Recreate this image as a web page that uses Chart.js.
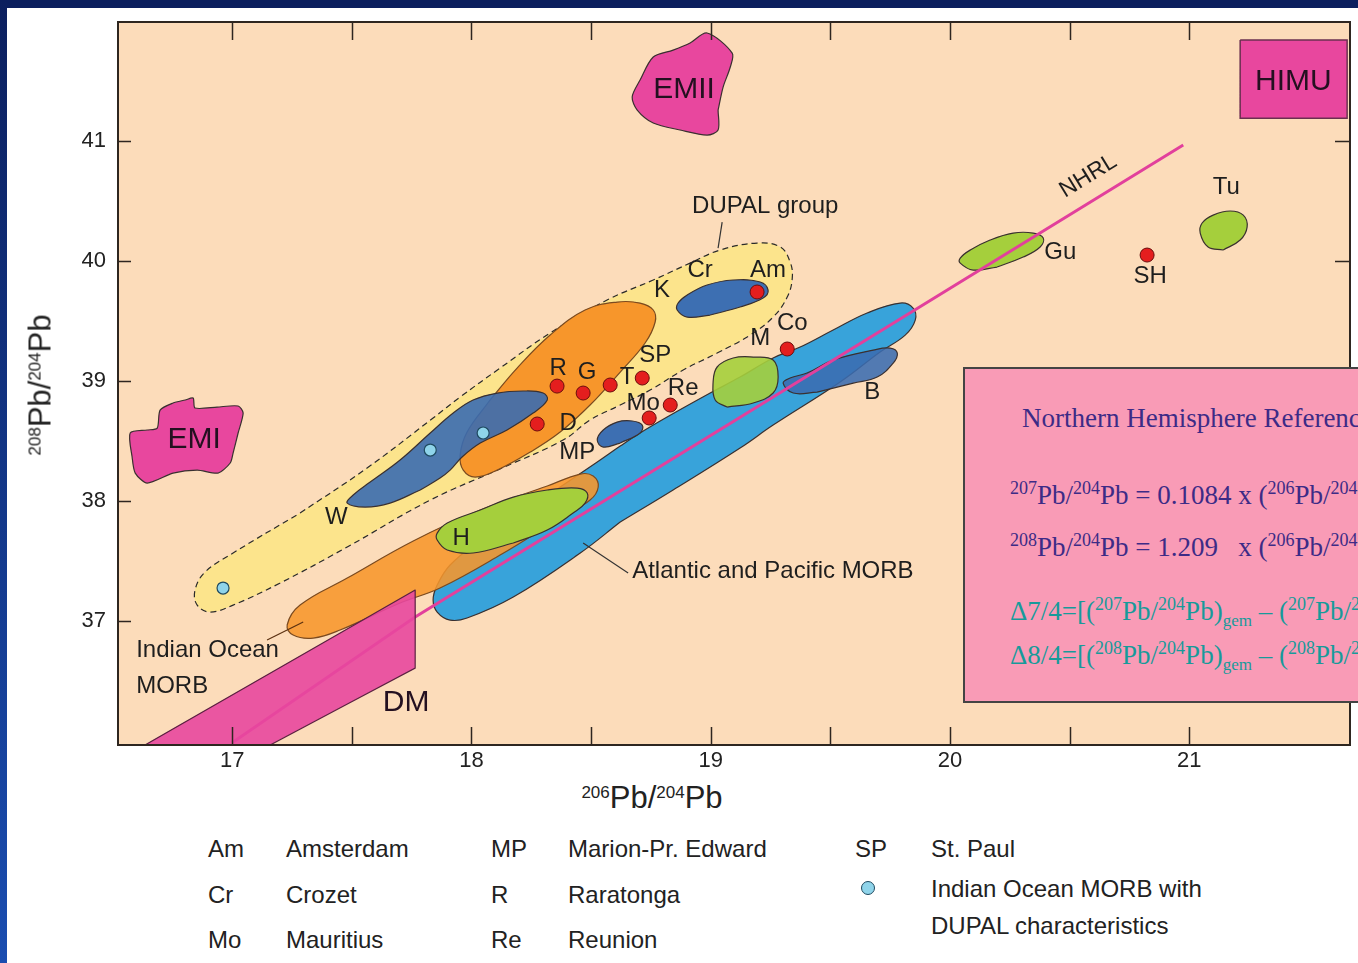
<!DOCTYPE html>
<html>
<head>
<meta charset="utf-8">
<script src="https://cdn.jsdelivr.net/npm/chart.js@4.4.1/dist/chart.umd.min.js"></script>
<style>
  html, body { margin: 0; padding: 0; }
  body {
    width: 1358px; height: 963px; overflow: hidden; position: relative;
    background: #fff; color: #222;
    font-family: "Liberation Sans", Arial, Helvetica, sans-serif;
  }
  #topbar  { position: absolute; left: 0; top: 0; width: 1358px; height: 8px; background: #0b1f5e; }
  #leftbar { position: absolute; left: 0; top: 0; width: 7px; height: 963px;
             background: linear-gradient(#0b1f5e, #1a4db0); }
  #wrap { position: absolute; left: 0; top: 0; width: 1358px; height: 780px; }

  .axt { position: absolute; font-size: 31px; line-height: 1; white-space: nowrap; color: #222; }
  .axt sup { font-size: 17px; vertical-align: 10px; line-height: 1; }
  #xtitle { left: 652px; top: 782px; transform: translateX(-50%); }
  #ytitle { left: 40px; top: 385px; transform: translate(-50%, -50%) rotate(-90deg); }

  #nhrl {
    position: absolute; left: 963px; top: 367px; width: 560px; height: 332px;
    background: #f99bb6; border: 2px solid #444;
    font-family: "Liberation Serif", "Times New Roman", serif; color: #3d2b86;
  }
  #nhrl div { position: absolute; white-space: nowrap; line-height: 1; font-size: 27px; }
  #nhrl sup { font-size: 18px; vertical-align: 10px; line-height: 1; }
  #nhrl sub { font-size: 17px; vertical-align: -6px; line-height: 1; }
  #nhrl .teal { color: #179a9a; }

  .lg { position: absolute; font-size: 24px; line-height: 1; white-space: nowrap; color: #222; }
  #cyanKey { position: absolute; left: 861px; top: 881px; width: 12px; height: 12px;
             border-radius: 50%; background: #8fd4ea; border: 1px solid #1f4a60; }
</style>
</head>
<body>
<div id="topbar"></div>
<div id="leftbar"></div>
<div id="wrap"><canvas id="myChart"></canvas></div>

<div class="axt" id="xtitle"><sup>206</sup>Pb/<sup>204</sup>Pb</div>
<div class="axt" id="ytitle"><sup>208</sup>Pb/<sup>204</sup>Pb</div>

<div id="nhrl">
  <div style="left:57px;top:36px;">Northern Hemisphere Reference Line</div>
  <div style="left:45px;top:110px;"><sup>207</sup>Pb/<sup>204</sup>Pb = 0.1084 x (<sup>206</sup>Pb/<sup>204</sup>Pb) + 13.491</div>
  <div style="left:45px;top:162px;"><sup>208</sup>Pb/<sup>204</sup>Pb = 1.209&nbsp;&nbsp;&nbsp;x (<sup>206</sup>Pb/<sup>204</sup>Pb) + 15.627</div>
  <div class="teal" style="left:45px;top:226px;">Δ7/4=[(<sup>207</sup>Pb/<sup>204</sup>Pb)<sub>gem</sub> – (<sup>207</sup>Pb/<sup>204</sup>Pb)<sub>NHRL</sub>] x 100</div>
  <div class="teal" style="left:45px;top:270px;">Δ8/4=[(<sup>208</sup>Pb/<sup>204</sup>Pb)<sub>gem</sub> – (<sup>208</sup>Pb/<sup>204</sup>Pb)<sub>NHRL</sub>] x 100</div>
</div>

<div class="lg" style="left:208px;top:837px;">Am</div>
<div class="lg" style="left:286px;top:837px;">Amsterdam</div>
<div class="lg" style="left:208px;top:883px;">Cr</div>
<div class="lg" style="left:286px;top:883px;">Crozet</div>
<div class="lg" style="left:208px;top:928px;">Mo</div>
<div class="lg" style="left:286px;top:928px;">Mauritius</div>
<div class="lg" style="left:491px;top:837px;">MP</div>
<div class="lg" style="left:568px;top:837px;">Marion-Pr. Edward</div>
<div class="lg" style="left:491px;top:883px;">R</div>
<div class="lg" style="left:568px;top:883px;">Raratonga</div>
<div class="lg" style="left:491px;top:928px;">Re</div>
<div class="lg" style="left:568px;top:928px;">Reunion</div>
<div class="lg" style="left:855px;top:837px;">SP</div>
<div class="lg" style="left:931px;top:837px;">St. Paul</div>
<div id="cyanKey"></div>
<div class="lg" style="left:931px;top:877px;">Indian Ocean MORB with</div>
<div class="lg" style="left:931px;top:914px;">DUPAL characteristics</div>

<script>
// ─────────────────────────────────────
//  DONNÉES  (206Pb/204Pb , 208Pb/204Pb)
// ─────────────────────────────────────

const FONT = '"Liberation Sans", Arial, Helvetica, sans-serif';

const xRange = [16.523, 21.672];
const yRange = [35.967, 41.992];
const xTickLabels = [17, 18, 19, 20, 21];
const yTickLabels = [37, 38, 39, 40, 41];
const xTickMarks  = [17, 17.5, 18, 18.5, 19, 19.5, 20, 20.5, 21];

// contours des champs (sommets)
const dupalGroup = [
  [17.284, 37.900], [17.564, 38.275], [17.840, 38.692], [17.953, 38.867],
  [18.120, 39.108], [18.329, 39.400], [18.567, 39.675], [18.760, 39.842],
  [18.914, 39.983], [19.040, 40.092], [19.194, 40.150], [19.291, 40.117],
  [19.332, 39.992], [19.341, 39.858], [19.320, 39.700], [19.261, 39.533],
  [19.165, 39.383], [19.027, 39.233], [18.885, 39.092], [18.747, 38.925],
  [18.622, 38.800], [18.496, 38.675], [18.383, 38.508], [18.108, 38.258],
  [17.828, 38.008], [17.481, 37.617], [17.201, 37.317], [17.004, 37.133],
  [16.908, 37.075], [16.854, 37.133], [16.845, 37.258], [16.887, 37.408],
  [17.004, 37.567]
];
const indianMorbUpper = [
  [18.078, 38.842], [18.191, 39.108], [18.329, 39.383], [18.475, 39.592],
  [18.609, 39.658], [18.705, 39.650], [18.760, 39.592], [18.768, 39.492],
  [18.726, 39.317], [18.622, 39.075], [18.496, 38.800], [18.371, 38.575],
  [18.246, 38.408], [18.108, 38.258], [18.016, 38.200], [17.966, 38.258],
  [17.953, 38.383], [17.982, 38.575]
];
const walvisField = [
  [17.786, 38.092], [17.869, 38.192], [17.911, 38.258], [17.961, 38.367],
  [18.037, 38.483], [18.149, 38.592], [18.258, 38.733], [18.317, 38.842],
  [18.300, 38.900], [18.216, 38.917], [18.108, 38.900], [18.007, 38.842],
  [17.924, 38.733], [17.828, 38.567], [17.702, 38.342], [17.577, 38.158],
  [17.506, 38.050], [17.481, 37.983], [17.556, 37.950], [17.660, 37.983]
];
const atlanticPacificMorb = [
  [18.622, 37.825], [18.843, 38.092], [19.123, 38.442], [19.261, 38.633],
  [19.541, 38.992], [19.708, 39.242], [19.813, 39.383], [19.855, 39.508],
  [19.846, 39.608], [19.792, 39.650], [19.654, 39.567], [19.512, 39.425],
  [19.374, 39.283], [19.261, 39.192], [19.123, 39.033], [18.998, 38.900],
  [18.818, 38.700], [18.705, 38.567], [18.622, 38.458], [18.526, 38.325],
  [18.371, 38.117], [18.204, 37.900], [18.037, 37.675], [17.911, 37.467],
  [17.857, 37.300], [17.840, 37.175], [17.857, 37.075], [17.911, 37.008],
  [17.982, 37.025], [18.175, 37.200], [18.455, 37.567]
];
const indianMorbLower = [
  [17.481, 37.358], [17.757, 37.667], [18.037, 37.925], [18.317, 38.125],
  [18.455, 38.225], [18.509, 38.208], [18.530, 38.117], [18.496, 38.008],
  [18.371, 37.858], [18.120, 37.550], [17.869, 37.275], [17.702, 37.150],
  [17.451, 36.925], [17.339, 36.858], [17.255, 36.883], [17.230, 36.967],
  [17.284, 37.133]
];
const heardField = [
  [18.175, 37.650], [18.317, 37.758], [18.425, 37.900], [18.475, 37.983],
  [18.484, 38.067], [18.442, 38.108], [18.317, 38.092], [18.175, 38.033],
  [18.037, 37.925], [17.899, 37.817], [17.857, 37.733], [17.857, 37.675],
  [17.899, 37.592], [18.007, 37.567]
];
const marionField = [
  [18.622, 38.483], [18.705, 38.567], [18.714, 38.633], [18.672, 38.667],
  [18.609, 38.658], [18.551, 38.592], [18.526, 38.508], [18.551, 38.450]
];
const crozetField = [
  [18.998, 39.550], [19.123, 39.617], [19.219, 39.692], [19.240, 39.758],
  [19.207, 39.825], [19.094, 39.842], [18.985, 39.800], [18.902, 39.717],
  [18.864, 39.650], [18.860, 39.592], [18.902, 39.533]
];
const mField = [
  [19.069, 38.783], [19.178, 38.817], [19.261, 38.900], [19.282, 39.033],
  [19.261, 39.175], [19.178, 39.200], [19.094, 39.192], [19.027, 39.117],
  [19.010, 38.983], [19.019, 38.842]
];
const bField = [
  [19.445, 38.908], [19.596, 38.983], [19.696, 39.033], [19.763, 39.150],
  [19.780, 39.233], [19.750, 39.275], [19.679, 39.258], [19.512, 39.175],
  [19.403, 39.067], [19.332, 39.025], [19.303, 38.983], [19.345, 38.900]
];
const goughField = [
  [20.197, 39.950], [20.306, 40.033], [20.377, 40.117], [20.390, 40.192],
  [20.348, 40.233], [20.264, 40.233], [20.168, 40.175], [20.085, 40.092],
  [20.043, 40.025], [20.043, 39.983], [20.097, 39.925]
];
const tubuaiField = [
  [21.142, 40.092], [21.213, 40.175], [21.242, 40.283], [21.226, 40.383],
  [21.171, 40.417], [21.100, 40.383], [21.054, 40.317], [21.046, 40.233],
  [21.079, 40.117]
];
const emiField = [
  [17.025, 38.567], [17.004, 38.400], [16.992, 38.317], [16.941, 38.233],
  [16.854, 38.258], [16.753, 38.233], [16.645, 38.150], [16.595, 38.233],
  [16.582, 38.367], [16.574, 38.567], [16.645, 38.592], [16.687, 38.608],
  [16.699, 38.758], [16.753, 38.817], [16.804, 38.842], [16.837, 38.858],
  [16.845, 38.775], [16.937, 38.783], [17.025, 38.792], [17.046, 38.733]
];
const emiiField = [
  [19.031, 41.258], [19.031, 41.092], [18.985, 41.050], [18.872, 41.092],
  [18.760, 41.150], [18.693, 41.258], [18.672, 41.367], [18.705, 41.508],
  [18.760, 41.700], [18.843, 41.758], [18.914, 41.817], [18.985, 41.900],
  [19.090, 41.733], [19.082, 41.617], [19.052, 41.450]
];
const himuBox = [[21.213, 41.842], [21.660, 41.842], [21.660, 41.190], [21.213, 41.190]];
const dmField = [[16.636, 35.967], [17.765, 37.258], [17.765, 36.608], [17.159, 35.967]];

// ligne de référence NHRL
const nhrlLine = [[17.000, 35.985], [17.765, 37.033], [20.975, 40.967]];

// traits de rappel des étiquettes
const dupalLeader    = [[19.048, 40.325], [19.031, 40.108]];
const atlanticLeader = [[18.467, 37.650], [18.655, 37.400]];
const indianLeader   = [[17.146, 36.842], [17.297, 36.992]];

// îles (points rouges) et MORB indien à caractère DUPAL (points cyan)
const islandNames = ['D', 'R', 'G', 'T', 'SP', 'Mo', 'Re', 'Co', 'Am', 'SH'];
const islandDots = [
  [18.275, 38.642], [18.358, 38.958], [18.467, 38.900], [18.580, 38.967],
  [18.714, 39.025], [18.743, 38.692], [18.831, 38.800], [19.320, 39.267],
  [19.194, 39.742], [20.824, 40.050]
];
const dupalMorbDots = [[17.828, 38.425], [18.049, 38.567], [16.962, 37.275]];

// étiquettes
const fieldLabels = [
  ['DUPAL group', 19.228, 40.458], ['K', 18.797, 39.758], ['Cr', 18.956, 39.925],
  ['Am', 19.240, 39.925], ['R', 18.363, 39.108], ['G', 18.484, 39.075],
  ['T', 18.651, 39.033], ['SP', 18.768, 39.217], ['Re', 18.885, 38.942],
  ['Mo', 18.718, 38.817], ['D', 18.404, 38.650], ['MP', 18.442, 38.408],
  ['M', 19.207, 39.358], ['Co', 19.341, 39.483], ['B', 19.675, 38.908],
  ['W', 17.435, 37.867], ['H', 17.957, 37.692], ['Gu', 20.461, 40.075],
  ['SH', 20.837, 39.875], ['Tu', 21.155, 40.617]
];
const noteLabels = [
  ['Atlantic and Pacific MORB', 18.672, 37.417],
  ['Indian Ocean', 16.599, 36.758],
  ['MORB', 16.599, 36.458]
];
const endMemberLabels = [
  ['EMI', 16.841, 38.508], ['EMII', 18.889, 41.425],
  ['HIMU', 21.435, 41.492], ['DM', 17.727, 36.317]
];
const nhrlLabel = ['NHRL', 20.578, 40.708];

// ─────────────────────────────────────
//  DATASETS
// ─────────────────────────────────────

const toXY = pts => pts.map(([x, y]) => ({ x, y }));

function field(pts, color, extra) {
  return Object.assign({
    type: 'line',
    data: toXY(pts.concat([pts[0]])),
    fill: 'shape',
    backgroundColor: color,
    borderColor: '#3a3030',
    borderWidth: 1.2,
    pointRadius: 0,
    tension: 0.4
  }, extra || {});
}

function segment(pts, color, width) {
  return {
    type: 'line', data: toXY(pts), fill: false,
    borderColor: color, borderWidth: width, pointRadius: 0, tension: 0
  };
}

const datasets = [
  field(dupalGroup, '#fce48c', { borderDash: [6, 4], borderColor: '#2a2a2a' }),
  field(indianMorbUpper, '#f7962b', { borderColor: '#7a4a20' }),
  field(walvisField, 'rgba(58,108,176,0.9)'),
  field(atlanticPacificMorb, '#38a3da'),
  field(indianMorbLower, 'rgba(247,150,43,0.88)', { borderColor: '#7a4a20' }),
  field(heardField, '#a5cf3c'),
  field(marionField, '#3d6fb2'),
  field(crozetField, '#3d6fb2'),
  field(mField, 'rgba(165,207,60,0.9)'),
  field(bField, 'rgba(58,108,176,0.88)'),
  field(goughField, '#a5cf3c'),
  field(tubuaiField, '#a5cf3c'),
  field(emiField, '#e8479e', { tension: 0.25 }),
  field(emiiField, '#e8479e', { tension: 0.3 }),
  field(himuBox, '#e8479e', { tension: 0.001, borderColor: '#6a3050', borderWidth: 1.5 }),
  segment(nhrlLine, '#e2409c', 3),
  field(dmField, 'rgba(232,71,158,0.9)', { tension: 0.001, borderColor: '#5a2040' }),
  segment(dupalLeader, '#333', 1.2),
  segment(atlanticLeader, '#333', 1.2),
  segment(indianLeader, '#5a3010', 1.2),
  {
    type: 'scatter', label: 'Indian Ocean MORB with DUPAL characteristics',
    data: toXY(dupalMorbDots), pointRadius: 6,
    pointBackgroundColor: '#8fd4ea', pointBorderColor: '#1f4a60', pointBorderWidth: 1.2
  },
  {
    type: 'scatter', label: 'Islands',
    data: toXY(islandDots), pointRadius: 7,
    pointBackgroundColor: '#e41e1e', pointBorderColor: '#6b0d0d', pointBorderWidth: 1
  }
];
// premier de la liste = dessiné en dessous
datasets.forEach((d, i) => { d.order = datasets.length - i; });

// ─────────────────────────────────────
//  PLUGINS : fond, cadre, graduations, textes
// ─────────────────────────────────────

const plotBackground = {
  id: 'plotBackground',
  beforeDraw(chart) {
    const { ctx, chartArea: a } = chart;
    ctx.save();
    ctx.fillStyle = '#fcdcba';
    ctx.fillRect(a.left, a.top, a.right - a.left, a.bottom - a.top);
    ctx.restore();
  }
};

const frameAndText = {
  id: 'frameAndText',
  afterDatasetsDraw(chart) {
    const { ctx, chartArea: a, scales: { x, y } } = chart;
    ctx.save();

    // cadre
    ctx.strokeStyle = '#2e2620';
    ctx.lineWidth = 2;
    ctx.strokeRect(a.left, a.top, a.right - a.left, a.bottom - a.top);

    // graduations internes
    ctx.lineWidth = 1.5;
    ctx.beginPath();
    xTickMarks.forEach(v => {
      const px = Math.round(x.getPixelForValue(v)) + 0.5;
      ctx.moveTo(px, a.bottom); ctx.lineTo(px, a.bottom - 18);
      ctx.moveTo(px, a.top);    ctx.lineTo(px, a.top + 18);
    });
    yTickLabels.forEach(v => {
      const py = Math.round(y.getPixelForValue(v)) + 0.5;
      ctx.moveTo(a.left, py);  ctx.lineTo(a.left + 13, py);
      ctx.moveTo(a.right, py); ctx.lineTo(a.right - 15, py);
    });
    ctx.stroke();

    // étiquettes
    ctx.fillStyle = '#1e1e1e';
    ctx.textBaseline = 'middle';

    ctx.font = `24px ${FONT}`;
    ctx.textAlign = 'center';
    fieldLabels.forEach(([t, vx, vy]) =>
      ctx.fillText(t, x.getPixelForValue(vx), y.getPixelForValue(vy)));

    ctx.textAlign = 'left';
    noteLabels.forEach(([t, vx, vy]) =>
      ctx.fillText(t, x.getPixelForValue(vx), y.getPixelForValue(vy)));

    ctx.font = `30px ${FONT}`;
    ctx.textAlign = 'center';
    ctx.fillStyle = '#241020';
    endMemberLabels.forEach(([t, vx, vy]) =>
      ctx.fillText(t, x.getPixelForValue(vx), y.getPixelForValue(vy)));

    // NHRL, parallèle à la ligne
    const n = nhrlLine.length;
    const ang = Math.atan2(
      y.getPixelForValue(nhrlLine[n - 1][1]) - y.getPixelForValue(nhrlLine[n - 2][1]),
      x.getPixelForValue(nhrlLine[n - 1][0]) - x.getPixelForValue(nhrlLine[n - 2][0]));
    ctx.translate(x.getPixelForValue(nhrlLabel[1]), y.getPixelForValue(nhrlLabel[2]));
    ctx.rotate(ang);
    ctx.font = `23px ${FONT}`;
    ctx.fillStyle = '#1e1e1e';
    ctx.fillText(nhrlLabel[0], 0, 0);

    ctx.restore();
  }
};

// ─────────────────────────────────────
//  GRAPHE
// ─────────────────────────────────────

new Chart(document.getElementById('myChart').getContext('2d'), {
  type: 'scatter',
  data: { datasets },
  options: {
    responsive: true,
    maintainAspectRatio: false,
    animation: false,
    layout: { padding: { top: 22, right: 8, left: 0, bottom: 0 } },
    plugins: { legend: { display: false }, tooltip: { enabled: false } },
    scales: {
      x: {
        type: 'linear', min: xRange[0], max: xRange[1],
        afterBuildTicks: s => { s.ticks = xTickLabels.map(v => ({ value: v })); },
        afterFit: s => { s.height = 35; },
        ticks: { font: { family: FONT, size: 22 }, color: '#222', padding: 3 },
        grid: { display: false, drawTicks: false },
        border: { display: false }
      },
      y: {
        type: 'linear', min: yRange[0], max: yRange[1],
        afterBuildTicks: s => { s.ticks = yTickLabels.map(v => ({ value: v })); },
        afterFit: s => { s.width = 118; },
        // lineHeight réduit : évite la marge haute ajoutée par Chart.js
        ticks: { font: { family: FONT, size: 22, lineHeight: 0.6 }, color: '#222', padding: 12 },
        grid: { display: false, drawTicks: false },
        border: { display: false }
      }
    }
  },
  plugins: [plotBackground, frameAndText]
});
</script>
</body>
</html>
